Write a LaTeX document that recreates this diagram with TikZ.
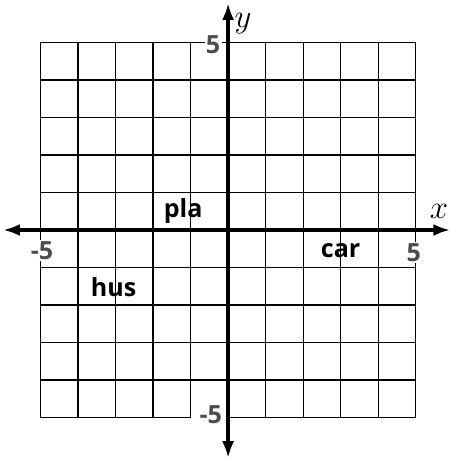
\documentclass[tikz,border=0pt]{standalone}
\usepackage{fontspec}
\setsansfont{Open Sans}
\usepackage{tikz}
\usetikzlibrary{arrows.meta, positioning}

\begin{document}
\begin{tikzpicture}[
						gridline/.style={line width=0.9pt},
						axis/.style={{Latex[length=4.5mm,width=3.2mm]}-{Latex[length=4.5mm,width=3.2mm]}, line width=2.6pt},
						word/.style={font=\sffamily\bfseries\fontsize{19}{22}\selectfont},
						tick/.style={font=\sffamily\bfseries\fontsize{19}{22}\selectfont, text=black!70, fill=white, inner sep=1pt},
						axlabel/.style={font=\fontsize{26}{30}\selectfont, inner sep=0pt}
					]
					\useasboundingbox (-6.08,-6.13) rectangle (5.95,6.13);

					% Grid
					\foreach \k in {-5,...,5} {
						\draw[gridline] (\k,-5) -- (\k,5);
					}
					\foreach \k in {-4,...,5} {
						\draw[gridline] (-5,\k) -- (5,\k);
					}
					\draw[gridline] (-5,-5) -- (-1,-5);
					\draw[gridline] (0,-5) -- (5,-5);

					% Tick numbers
					\node[tick] (xneg) at (-4.96,-0.55) {-5};
					\node[tick] (xpos) at (4.95,-0.6) {5};
					\node[tick] (ypos) at (-0.4,4.93) {5};
					\node[tick] (yneg) at (-0.46,-4.93) {-5};

					% Axes
					\coordinate (xl) at (-6.0,0);
					\coordinate (xr) at (5.92,0);
					\coordinate (yb) at (0,-6.08);
					\coordinate (yt) at (0,6.05);
					\draw[axis] (xl) -- (xr);
					\draw[axis] (yb) -- (yt);

					\node[axlabel] (xlab) at (5.62,0.5) {$x$};
					\node[axlabel] (ylab) at (0.4,5.5) {$y$};

					% Words
					\node[word] (pla) at (-1.2,0.5) {pla};
					\node[word] (car) at (3.0,-0.55) {car};
					\node[word] (hus) at (-3.05,-1.52) {hus};
				\end{tikzpicture}
\end{document}
